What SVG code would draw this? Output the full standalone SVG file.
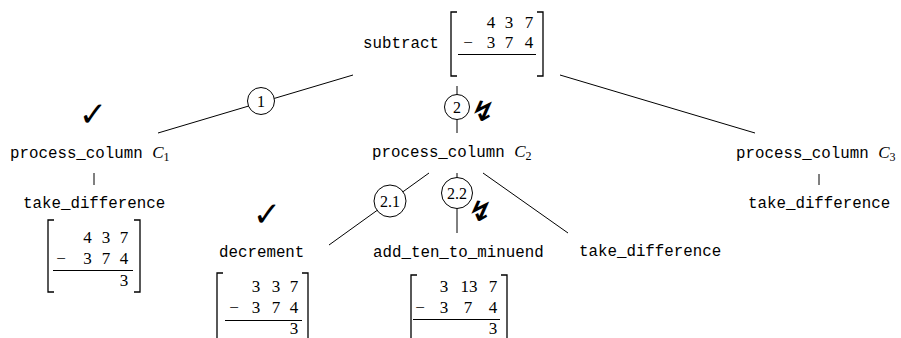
<svg xmlns="http://www.w3.org/2000/svg" width="901" height="338" viewBox="0 0 901 338">
<style>
.tt{font-family:"Liberation Mono",monospace;font-size:15.8px;fill:#000}
.rm{font-family:"Liberation Serif",serif;font-size:17px;fill:#000;text-anchor:middle}
.cl{font-family:"Liberation Serif",serif;font-size:16px;fill:#000;text-anchor:middle}
.it{font-family:"Liberation Serif",serif;font-style:italic;font-size:17px;fill:#000}
.sub{font-family:"Liberation Serif",serif;font-size:12px;fill:#000}
.ln{stroke:#000;stroke-width:1;fill:none}
.br{stroke:#000;stroke-width:1.3;fill:none}
.rule{stroke:#000;stroke-width:1;}
.circ{stroke:#000;stroke-width:1;fill:#fff}
.chk{font-family:"DejaVu Sans",sans-serif;font-weight:bold;font-size:34px;fill:#000;text-anchor:middle}
.bolt{font-family:"DejaVu Sans",sans-serif;font-weight:bold;font-size:28px;fill:#000;text-anchor:middle}
</style>
<g id="connectors">
<line class="ln" x1="353" y1="75" x2="158" y2="133"/>
<line class="ln" x1="457" y1="86" x2="457" y2="133"/>
<line class="ln" x1="560" y1="75" x2="755" y2="133"/>
<line class="ln" x1="94" y1="173" x2="94" y2="185"/>
<line class="ln" x1="819" y1="174" x2="819" y2="185"/>
<line class="ln" x1="429" y1="173" x2="329" y2="245"/>
<line class="ln" x1="457" y1="173" x2="457" y2="233"/>
<line class="ln" x1="483" y1="173" x2="568" y2="233"/>
<circle class="circ" cx="261" cy="101" r="13.5"/>
<text class="cl" x="261" y="106.5">1</text>
<circle class="circ" cx="457" cy="107" r="12.5"/>
<text class="cl" x="457" y="112.5">2</text>
<circle class="circ" cx="390" cy="201" r="16"/>
<text class="cl" x="390" y="206.5">2.1</text>
<circle class="circ" cx="457" cy="193" r="15.5"/>
<text class="cl" x="457" y="198.5">2.2</text>
<text class="bolt" x="481" y="121" transform="skewX(-15) translate(32,0)">↯</text>
<text class="bolt" x="478" y="221" transform="skewX(-15) translate(59,0)">↯</text>
</g>
<g id="root">
<text class="tt" x="363" y="48">subtract</text>
<path class="br" d="M457,12 H451 V76 H457"/>
<path class="br" d="M537,12 H543 V76 H537"/>
<text class="rm" x="491" y="28">4</text><text class="rm" x="509" y="28">3</text><text class="rm" x="529" y="28">7</text>
<text class="rm" x="468" y="48">−</text><text class="rm" x="491" y="48">3</text><text class="rm" x="509" y="48">7</text><text class="rm" x="529" y="48">4</text>
<line class="rule" x1="458" y1="54.5" x2="536" y2="54.5"/>
</g>
<g id="c1">
<text class="chk" x="93" y="126">✓</text>
<text class="tt" x="10" y="158">process_column <tspan class="it">C</tspan><tspan class="sub" dy="3">1</tspan></text>
</g>
<g id="c1-take">
<text class="tt" x="23" y="208">take_difference</text>
<path class="br" d="M54,220 H48 V292 H54"/>
<path class="br" d="M134,220 H140 V292 H134"/>
<text class="rm" x="87.5" y="243">4</text><text class="rm" x="106" y="243">3</text><text class="rm" x="124" y="243">7</text>
<text class="rm" x="61" y="264">−</text><text class="rm" x="87.5" y="264">3</text><text class="rm" x="106" y="264">7</text><text class="rm" x="124" y="264">4</text>
<line class="rule" x1="53" y1="270.5" x2="133" y2="270.5"/>
<text class="rm" x="124" y="286">3</text>
</g>
<g id="c2">
<text class="tt" x="372" y="157">process_column <tspan class="it">C</tspan><tspan class="sub" dy="3">2</tspan></text>
</g>
<g id="c3">
<text class="tt" x="736" y="158">process_column <tspan class="it">C</tspan><tspan class="sub" dy="3">3</tspan></text>
</g>
<g id="c3-take">
<text class="tt" x="748" y="208">take_difference</text>
</g>
<g id="decrement">
<text class="chk" x="267" y="226">✓</text>
<text class="tt" x="219" y="257">decrement</text>
<path class="br" d="M223,273 H217 V345 H223"/>
<path class="br" d="M302,273 H308 V345 H302"/>
<text class="rm" x="256" y="292">3</text><text class="rm" x="276" y="292">3</text><text class="rm" x="294" y="292">7</text>
<text class="rm" x="234" y="313">−</text><text class="rm" x="256" y="313">3</text><text class="rm" x="276" y="313">7</text><text class="rm" x="294" y="313">4</text>
<line class="rule" x1="225" y1="320.5" x2="302" y2="320.5"/>
<text class="rm" x="294" y="334">3</text>
</g>
<g id="add-ten">
<text class="tt" x="373" y="257">add_ten_to_minuend</text>
<path class="br" d="M417,275 H411 V345 H417"/>
<path class="br" d="M501,275 H507 V345 H501"/>
<text class="rm" x="444" y="292">3</text><text class="rm" x="469" y="292">13</text><text class="rm" x="493" y="292">7</text>
<text class="rm" x="420" y="313">−</text><text class="rm" x="444" y="313">3</text><text class="rm" x="468" y="313">7</text><text class="rm" x="493" y="313">4</text>
<line class="rule" x1="413" y1="319.5" x2="500" y2="319.5"/>
<text class="rm" x="493" y="334">3</text>
</g>
<g id="c2-take">
<text class="tt" x="579" y="256">take_difference</text>
</g>
</svg>
